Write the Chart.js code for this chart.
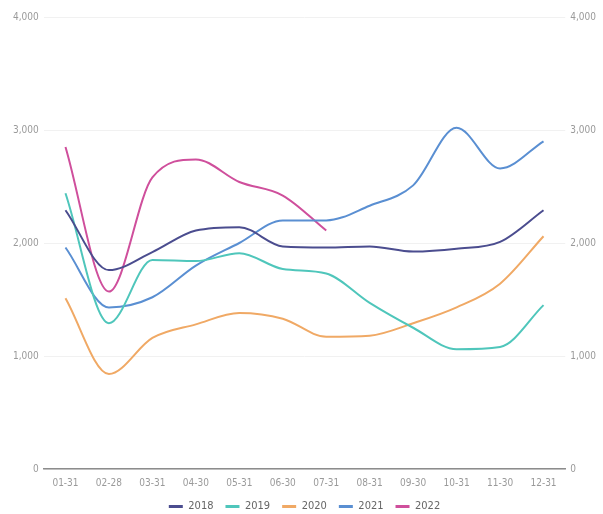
<!DOCTYPE html>
<html>
<head>
<meta charset="utf-8">
<script src="https://cdn.jsdelivr.net/npm/chart.js@4"></script>
<style>
  html, body { margin: 0; padding: 0; background: #fff; }
  #wrap { width: 603px; height: 514px; }
</style>
</head>
<body>
<div id="wrap"><canvas id="line-chart"></canvas></div>
<script>
// month-end categories and yearly series
const months = ['01-31', '02-28', '03-31', '04-30', '05-31', '06-30', '07-31', '08-31', '09-30', '10-31', '11-30', '12-31'];
const years = ['2018', '2019', '2020', '2021', '2022'];
const values2018 = [2290, 1760, 1920, 2110, 2140, 1970, 1960, 1970, 1925, 1950, 2010, 2290];
const values2019 = [2440, 1290, 1850, 1840, 1910, 1770, 1730, 1470, 1250, 1060, 1080, 1450];
const values2020 = [1510, 840, 1160, 1280, 1380, 1330, 1170, 1180, 1290, 1430, 1640, 2060];
const values2021 = [1960, 1430, 1520, 1800, 2000, 2200, 2200, 2330, 2510, 3020, 2660, 2900];
const values2022 = [2850, 1570, 2580, 2740, 2540, 2420, 2110];
const yTicks = [0, 1000, 2000, 3000, 4000];

const colors = ['#4b4d8f', '#4fc6bb', '#f0a965', '#5a8fd2', '#cf4f9c'];
const seriesValues = [values2018, values2019, values2020, values2021, values2022];

const FONT = "'DejaVu Sans Condensed', 'Liberation Sans Narrow', sans-serif";

function makeDataset(i) {
    return {
        label: years[i],
        data: seriesValues[i],
        borderColor: colors[i],
        backgroundColor: colors[i],
        borderWidth: 2,
        pointRadius: 0,
        pointStyle: 'line',
        cubicInterpolationMode: 'monotone',
        fill: false,
        yAxisID: 'y'
    };
}

const tickOpts = {
    color: '#9a9a9a',
    font: { family: FONT, size: 10 },
    padding: 5,
    callback: function(value) {
        return value.toLocaleString('en-US');
    }
};

new Chart(document.getElementById('line-chart'), {
    type: 'line',
    data: {
        labels: months,
        datasets: years.map(function(y, i) { return makeDataset(i); })
    },
    options: {
        responsive: true,
        maintainAspectRatio: false,
        animation: false,
        layout: { padding: { top: 17, left: 8, right: 2, bottom: -8 } },
        plugins: {
            legend: {
                position: 'bottom',
                labels: {
                    usePointStyle: true,
                    pointStyle: 'line',
                    pointStyleWidth: 14,
                    boxHeight: 6,
                    padding: 12,
                    color: '#666',
                    font: { family: FONT, size: 11 },
                    generateLabels: function(chart) {
                        return chart.data.datasets.map(function(ds, i) {
                            return {
                                text: ds.label,
                                fillStyle: ds.borderColor,
                                strokeStyle: ds.borderColor,
                                lineWidth: 3,
                                pointStyle: 'line',
                                fontColor: '#666',
                                datasetIndex: i
                            };
                        });
                    }
                }
            },
            tooltip: { enabled: false }
        },
        scales: {
            x: {
                offset: true,
                grid: { display: false },
                border: { display: true, color: '#8c8c8c', width: 1.5 },
                ticks: {
                    color: '#9a9a9a',
                    font: { family: FONT, size: 10 },
                    padding: 0,
                    maxRotation: 0,
                    autoSkip: false
                }
            },
            y: {
                position: 'left',
                min: yTicks[0],
                max: yTicks[yTicks.length - 1],
                afterBuildTicks: function(axis) {
                    axis.ticks = yTicks.map(function(v) { return { value: v }; });
                },
                grid: { color: '#f1f1f1', drawTicks: false },
                border: { display: false },
                ticks: tickOpts
            },
            y2: {
                position: 'right',
                min: yTicks[0],
                max: yTicks[yTicks.length - 1],
                afterBuildTicks: function(axis) {
                    axis.ticks = yTicks.map(function(v) { return { value: v }; });
                },
                grid: { display: false, drawTicks: false },
                border: { display: false },
                ticks: tickOpts
            }
        }
    }
});
</script>
</body>
</html>
